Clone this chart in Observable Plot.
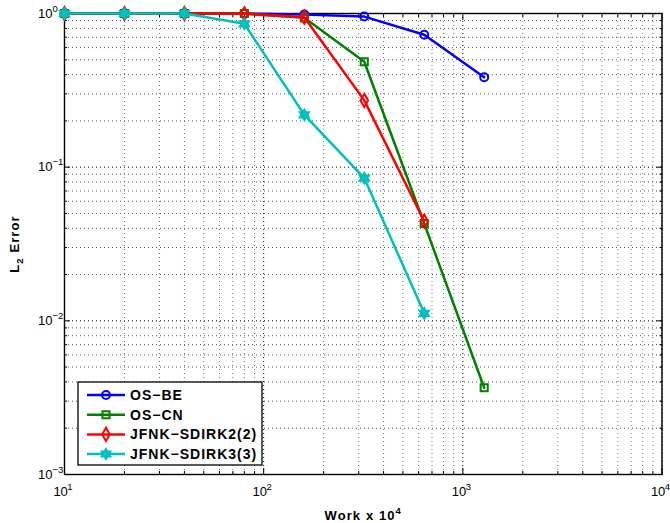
<!DOCTYPE html>
<html><head><meta charset="utf-8">
<script src="https://cdn.jsdelivr.net/npm/d3@7"></script>
<script src="https://cdn.jsdelivr.net/npm/@observablehq/plot@0.6"></script>
<style>
body{margin:0;background:#fff;font-family:"Liberation Sans",Arial,sans-serif}
#chart{position:relative;width:670px;height:523px}
</style>
</head><body><div id="chart"></div>
<script>
// ---- data ----
const work = [10, 20, 40, 80, 160, 320, 640, 1280];
const errOSBE   = [1, 1, 1, 1, 0.985, 0.955, 0.727, 0.385];
const errOSCN   = [1, 1, 1, 1, 0.937, 0.485, 0.043, 0.00367];
const errSDIRK2 = [1, 1, 1, 0.995, 0.946, 0.272, 0.0445];
const errSDIRK3 = [1, 1, 1, 0.857, 0.219, 0.0849, 0.0112];
const seriesNames = ["OS\u2212BE", "OS\u2212CN", "JFNK\u2212SDIRK2(2)", "JFNK\u2212SDIRK3(3)"];
const seriesColors = ["#0000ff", "#008000", "#ff0000", "#00bfbf"];
const seriesValues = [errOSBE, errOSCN, errSDIRK2, errSDIRK3];
const xMajor = [10, 100, 1000, 10000];
const xMinor = [20,30,40,50,60,70,80,90,200,300,400,500,600,700,800,900,2000,3000,4000,5000,6000,7000,8000,9000];
const yMajor = [0.001, 0.01, 0.1, 1];
const yMinor = [0.002,0.003,0.004,0.005,0.006,0.007,0.008,0.009,0.02,0.03,0.04,0.05,0.06,0.07,0.08,0.09,0.2,0.3,0.4,0.5,0.6,0.7,0.8,0.9];
const xLabel = "Work x 10^{4}";
const yLabel = "L_{2} Error";

const FONT = "'Liberation Sans', Arial, sans-serif";
const TICK_FS = 13, SUP_FS = 9.5;

// custom hexagram symbol
const hexagram = {
  draw(ctx, size) {
    const R = Math.sqrt(size / Math.PI) * 1.25, r = R / Math.sqrt(3);
    for (let i = 0; i < 12; i++) {
      const a = -Math.PI / 2 + i * Math.PI / 6, rr = i % 2 ? r : R;
      const x = rr * Math.cos(a), y = rr * Math.sin(a);
      i ? ctx.lineTo(x, y) : ctx.moveTo(x, y);
    }
    ctx.closePath();
  }
};
const symbols = [d3.symbolCircle, d3.symbolSquare, d3.symbolDiamond, hexagram];

const rowsFor = (i) => seriesValues[i].map((v, j) => ({work: work[j], err: v}));
const fmtPow = d => {
  const e = Math.round(Math.log10(d));
  return "10^{" + (e < 0 ? "\u2212" + (-e) : e) + "}";
};

const seriesMarks = [];
seriesNames.forEach((name, i) => {
  const rows = rowsFor(i);
  seriesMarks.push(Plot.line(rows, {x: "work", y: "err", stroke: seriesColors[i], strokeWidth: 2.5}));
  seriesMarks.push(Plot.dot(rows, {x: "work", y: "err", symbol: () => symbols[i], r: i === 3 ? 4.2 : 4,
    stroke: seriesColors[i], strokeWidth: 2, fill: i === 3 ? seriesColors[i] : "none"}));
});

const noText = () => "";
const plot = Plot.plot({
  width: 670, height: 523,
  marginLeft: 64, marginRight: 8.5, marginTop: 13, marginBottom: 49,
  x: {type: "log", domain: [10, 10000]},
  y: {type: "log", domain: [0.001, 1]},
  style: {fontFamily: FONT, fontSize: TICK_FS + "px", color: "#000", background: "#fff"},
  marks: [
    Plot.ruleX(xMinor, {stroke: "#777", strokeDasharray: "1 3"}),
    Plot.ruleX(xMajor, {stroke: "#000", strokeDasharray: "1 3"}),
    Plot.ruleY(yMinor, {stroke: "#555", strokeDasharray: "1 3"}),
    Plot.ruleY(yMajor, {stroke: "#000", strokeDasharray: "1 3"}),
    Plot.axisX(xMajor, {tickSize: 0, tickPadding: 12.5, tickFormat: fmtPow, fontSize: TICK_FS, dx: -1.5,
      label: null}),
    Plot.axisX({tickSize: 0, ticks: [], label: xLabel, labelAnchor: "center", labelArrow: "none", labelOffset: 45}),
    Plot.axisY(yMajor, {tickSize: 0, tickPadding: 12, tickFormat: fmtPow, fontSize: TICK_FS,
      label: yLabel, labelAnchor: "center", labelArrow: "none", labelOffset: 55}),
    Plot.axisX(xMajor, {anchor: "bottom", tickSize: -6, tickFormat: noText, label: null}),
    Plot.axisX(xMinor, {anchor: "bottom", tickSize: -3, tickFormat: noText, label: null}),
    Plot.axisX(xMajor, {anchor: "top", tickSize: -6, tickFormat: noText, label: null}),
    Plot.axisX(xMinor, {anchor: "top", tickSize: -3, tickFormat: noText, label: null}),
    Plot.axisY(yMajor, {anchor: "left", tickSize: -6, tickFormat: noText, label: null}),
    Plot.axisY(yMinor, {anchor: "left", tickSize: -3, tickFormat: noText, label: null}),
    Plot.axisY(yMajor, {anchor: "right", tickSize: -6, tickFormat: noText, label: null}),
    Plot.axisY(yMinor, {anchor: "right", tickSize: -3, tickFormat: noText, label: null}),
    Plot.frame({stroke: "#000", strokeWidth: 1.4}),
    ...seriesMarks
  ]
});

const svgns = "http://www.w3.org/2000/svg";
const baseW = 2 * 0.556 * TICK_FS; // width of "10"

// tick labels: x labels centred as a whole; y labels with "10" right-aligned, exponent hanging right
function tickRich(sel, mode) {
  sel.each(function() {
    const s = this.textContent;
    const m = /^10\^\{(.*)\}$/.exec(s);
    if (!m) return;
    while (this.firstChild) this.removeChild(this.firstChild);
    this.setAttribute("font-size", TICK_FS);
    const b = document.createElementNS(svgns, "tspan");
    if (mode === "y") {
      this.setAttribute("text-anchor", "start");
      b.setAttribute("dx", -baseW);
    }
    b.textContent = "10";
    const e = document.createElementNS(svgns, "tspan");
    e.setAttribute("dy", -6);
    if (mode === "x") e.setAttribute("dx", -0.5);
    e.setAttribute("font-size", SUP_FS);
    e.textContent = m[1];
    this.appendChild(b); this.appendChild(e);
  });
}
tickRich(d3.select(plot).selectAll("g[aria-label='x-axis tick label'] text"), "x");
tickRich(d3.select(plot).selectAll("g[aria-label='y-axis tick label'] text"), "y");

// axis labels with sub/superscripts
d3.select(plot).selectAll("g[aria-label='x-axis label'] text, g[aria-label='y-axis label'] text").each(function() {
  const s = this.textContent;
  while (this.firstChild) this.removeChild(this.firstChild);
  this.setAttribute("font-weight", "bold");
  this.setAttribute("font-size", 13);
  this.setAttribute("letter-spacing", "1.1px");
  const re = /([\^_])\{([^}]*)\}|([^^_]+)/g;
  let m, shift = 0;
  while ((m = re.exec(s))) {
    const t = document.createElementNS(svgns, "tspan");
    if (m[1]) {
      const d = m[1] === "^" ? -6 : 4;
      t.setAttribute("dy", d - shift); shift = d;
      t.setAttribute("font-size", SUP_FS);
      t.textContent = m[2];
    } else {
      if (shift) t.setAttribute("dy", -shift);
      shift = 0;
      t.textContent = m[3];
    }
    this.appendChild(t);
  }
});

// legend
const lg = d3.select(plot).append("g").attr("font-family", FONT).attr("text-anchor", "start");
lg.append("rect").attr("x", 78).attr("y", 382).attr("width", 184).attr("height", 83)
  .attr("fill", "#fff").attr("stroke", "#000").attr("stroke-width", 1.3);
seriesNames.forEach((name, i) => {
  const y = 395 + i * 19.7;
  lg.append("line").attr("x1", 87).attr("x2", 125).attr("y1", y).attr("y2", y)
    .attr("stroke", seriesColors[i]).attr("stroke-width", 2.5);
  lg.append("path").attr("transform", `translate(106,${y})`)
    .attr("d", d3.symbol(symbols[i], Math.PI * 16)())
    .attr("stroke", seriesColors[i]).attr("stroke-width", 2).attr("fill", i === 3 ? seriesColors[i] : "none");
  lg.append("text").attr("x", 130).attr("y", y).attr("dy", "0.36em")
    .attr("font-size", 14).attr("font-weight", "bold").attr("letter-spacing", "1px").text(name);
});

document.getElementById("chart").appendChild(plot);
</script>
</body></html>
